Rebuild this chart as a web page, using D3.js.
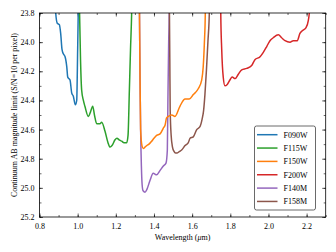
<!DOCTYPE html>
<html>
<head>
<meta charset="utf-8">
<script src="https://cdn.jsdelivr.net/npm/d3@7"></script>
<style>
  body { margin: 0; background: #fff; }
  svg, svg text { font-family: "Liberation Serif", "DejaVu Serif", serif; }
  .domain { display: none; }
</style>
</head>
<body>
<div id="chart"></div>
<script>
// Data (wavelength in micron, AB mag limit)
var filterNames = ["F090W", "F115W", "F150W", "F200W", "F140M", "F158M"];
var filterColors = ["#1f77b4", "#2ca02c", "#ff7f0e", "#d62728", "#9467bd", "#8c564b"];
// medium bands sit underneath the wide bands
var drawOrder = [4, 5, 0, 1, 2, 3];

var f090wWave = [0.883, 0.885, 0.893, 0.904, 0.911, 0.918, 0.925, 0.934, 0.943, 0.948, 0.960, 0.969, 0.977, 0.988, 0.995, 1.000, 1.003, 1.005];
var f090wMag  = [23.60, 23.80, 23.87, 23.88, 23.94, 24.05, 24.08, 24.10, 24.17, 24.24, 24.26, 24.35, 24.37, 24.43, 24.40, 24.05, 23.80, 23.60];

var f115wWave = [1.008, 1.010, 1.015, 1.021, 1.030, 1.038, 1.056, 1.067, 1.079, 1.088, 1.100, 1.117, 1.126, 1.143, 1.159, 1.170, 1.180, 1.196, 1.206, 1.217, 1.231, 1.243, 1.257, 1.264, 1.271, 1.277, 1.283, 1.286];
var f115wMag  = [23.60, 23.80, 24.12, 24.33, 24.40, 24.44, 24.51, 24.48, 24.44, 24.50, 24.56, 24.56, 24.55, 24.61, 24.69, 24.72, 24.71, 24.67, 24.66, 24.67, 24.68, 24.69, 24.69, 24.64, 24.33, 24.05, 23.80, 23.60];

var f150wWave = [1.323, 1.324, 1.327, 1.330, 1.337, 1.344, 1.353, 1.362, 1.374, 1.388, 1.400, 1.414, 1.432, 1.449, 1.458, 1.466, 1.475, 1.493, 1.510, 1.536, 1.563, 1.585, 1.606, 1.632, 1.650, 1.658, 1.664, 1.669, 1.671];
var f150wMag  = [23.60, 23.80, 24.26, 24.60, 24.71, 24.73, 24.72, 24.71, 24.70, 24.68, 24.66, 24.64, 24.63, 24.59, 24.57, 24.52, 24.51, 24.50, 24.51, 24.44, 24.39, 24.39, 24.36, 24.32, 24.26, 24.17, 24.01, 23.80, 23.60];

var f200wWave = [1.749, 1.750, 1.755, 1.763, 1.772, 1.784, 1.798, 1.810, 1.825, 1.842, 1.860, 1.886, 1.912, 1.929, 1.956, 1.973, 1.991, 2.008, 2.025, 2.052, 2.069, 2.087, 2.113, 2.130, 2.151, 2.165, 2.179, 2.197, 2.209, 2.214, 2.217];
var f200wMag  = [23.60, 23.80, 24.05, 24.24, 24.30, 24.29, 24.26, 24.24, 24.25, 24.22, 24.19, 24.18, 24.16, 24.12, 24.10, 24.07, 24.03, 23.99, 23.97, 23.95, 23.97, 23.99, 24.00, 23.99, 23.99, 23.94, 23.92, 23.90, 23.85, 23.80, 23.60];

var f140mWave = [1.323, 1.324, 1.327, 1.330, 1.334, 1.338, 1.343, 1.353, 1.363, 1.379, 1.396, 1.414, 1.432, 1.449, 1.463, 1.470, 1.473, 1.477, 1.480, 1.481];
var f140mMag  = [23.60, 23.80, 24.26, 24.60, 24.85, 24.98, 25.02, 25.03, 25.01, 24.95, 24.90, 24.91, 24.88, 24.85, 24.83, 24.74, 24.40, 24.00, 23.80, 23.60];

var f158mWave = [1.480, 1.481, 1.483, 1.485, 1.490, 1.497, 1.505, 1.513, 1.522, 1.534, 1.545, 1.563, 1.580, 1.589, 1.606, 1.624, 1.641, 1.652, 1.660, 1.667, 1.675, 1.683, 1.690, 1.693];
var f158mMag  = [23.60, 23.80, 24.12, 24.47, 24.64, 24.72, 24.75, 24.76, 24.76, 24.75, 24.74, 24.71, 24.69, 24.66, 24.65, 24.60, 24.58, 24.53, 24.47, 24.36, 24.19, 23.99, 23.80, 23.60];

var xMajorTicks = [0.8, 1.0, 1.2, 1.4, 1.6, 1.8, 2.0, 2.2];
var yMajorTicks = [23.8, 24.0, 24.2, 24.4, 24.6, 24.8, 25.0, 25.2];

var allWaves = [f090wWave, f115wWave, f150wWave, f200wWave, f140mWave, f158mWave];
var allMags = [f090wMag, f115wMag, f150wMag, f200wMag, f140mMag, f158mMag];

// Dimensions and margins
var margin = { top: 13, right: 10.3, bottom: 35, left: 39.5 };
var width = 336 - margin.left - margin.right;
var height = 252 - margin.top - margin.bottom;

var x = d3.scaleLinear().domain([0.8, 2.3]).range([0, width]);
var y = d3.scaleLinear().domain([23.8, 25.2]).range([0, height]);

var xMinorTicks = d3.range(8, 24).map(function (d) { return d / 10; });
var yMinorTicks = d3.range(238, 253).map(function (d) { return d / 10; });

var svg = d3.select("#chart")
    .append("svg")
    .attr("width", 336)
    .attr("height", 252)
    .append("g")
    .attr("transform", "translate(" + margin.left + "," + margin.top + ")");

svg.append("clipPath")
    .attr("id", "plotClip")
    .append("rect")
    .attr("width", width)
    .attr("height", height);

// Inward ticks on all four sides
function styleAxis(g) {
    g.attr("font-family", null);
    g.selectAll(".tick line").attr("stroke", "#000").attr("stroke-width", 0.6);
    g.selectAll(".tick text").attr("fill", "#000").style("font-size", "8px");
}

svg.append("g")
    .attr("transform", "translate(0," + height + ")")
    .call(d3.axisBottom(x).tickValues(xMajorTicks).tickFormat(d3.format(".1f")).tickSize(-3.5).tickPadding(6))
    .call(styleAxis);
svg.append("g")
    .attr("transform", "translate(0," + height + ")")
    .call(d3.axisBottom(x).tickValues(xMinorTicks).tickFormat("").tickSize(-2))
    .call(styleAxis);
svg.append("g")
    .call(d3.axisTop(x).tickValues(xMajorTicks).tickFormat("").tickSize(-3.5))
    .call(styleAxis);
svg.append("g")
    .call(d3.axisTop(x).tickValues(xMinorTicks).tickFormat("").tickSize(-2))
    .call(styleAxis);

svg.append("g")
    .call(d3.axisLeft(y).tickValues(yMajorTicks).tickFormat(d3.format(".1f")).tickSize(-3.5).tickPadding(5))
    .call(styleAxis);
svg.append("g")
    .call(d3.axisLeft(y).tickValues(yMinorTicks).tickFormat("").tickSize(-2))
    .call(styleAxis);
svg.append("g")
    .attr("transform", "translate(" + width + ",0)")
    .call(d3.axisRight(y).tickValues(yMajorTicks).tickFormat("").tickSize(-3.5))
    .call(styleAxis);
svg.append("g")
    .attr("transform", "translate(" + width + ",0)")
    .call(d3.axisRight(y).tickValues(yMinorTicks).tickFormat("").tickSize(-2))
    .call(styleAxis);

// Lines
var line = d3.line()
    .curve(d3.curveMonotoneX)
    .x(function (d) { return x(d[0]); })
    .y(function (d) { return y(d[1]); });

var lines = svg.append("g").attr("clip-path", "url(#plotClip)");
drawOrder.forEach(function (i) {
    var pts = allWaves[i].map(function (w, j) { return [w, allMags[i][j]]; });
    lines.append("path")
        .attr("d", line(pts))
        .attr("fill", "none")
        .attr("stroke", filterColors[i])
        .attr("stroke-width", 1.5)
        .attr("stroke-linejoin", "round");
});

// Frame
svg.append("rect")
    .attr("width", width)
    .attr("height", height)
    .attr("fill", "none")
    .attr("stroke", "#000")
    .attr("stroke-width", 0.8);

// Axis labels
var xLabel = svg.append("text")
    .attr("x", width / 2)
    .attr("y", height + 23)
    .attr("text-anchor", "middle")
    .style("font-size", "8px");
xLabel.append("tspan").text("Wavelength (");
xLabel.append("tspan").style("font-style", "italic").text("μ");
xLabel.append("tspan").text("m)");

svg.append("text")
    .attr("transform", "rotate(-90)")
    .attr("x", -height / 2)
    .attr("y", -23)
    .attr("text-anchor", "middle")
    .style("font-size", "8px")
    .text("Continuum AB magnitude limit (S/N=10 per pixel)");

// Legend
var legend = svg.append("g")
    .attr("transform", "translate(" + (254.5 - margin.left) + "," + (126 - margin.top) + ")");
legend.append("rect")
    .attr("width", 61)
    .attr("height", 84)
    .attr("rx", 2)
    .attr("fill", "#fff")
    .attr("stroke", "#444")
    .attr("stroke-width", 0.8);
filterNames.forEach(function (name, i) {
    var row = legend.append("g").attr("transform", "translate(0," + (8.7 + i * 13.35) + ")");
    row.append("line")
        .attr("x1", 2.5).attr("x2", 23)
        .attr("stroke", filterColors[i])
        .attr("stroke-width", 1.5);
    row.append("text")
        .attr("x", 29)
        .attr("dy", "0.35em")
        .style("font-size", "8px")
        .text(name);
});
</script>
</body>
</html>
